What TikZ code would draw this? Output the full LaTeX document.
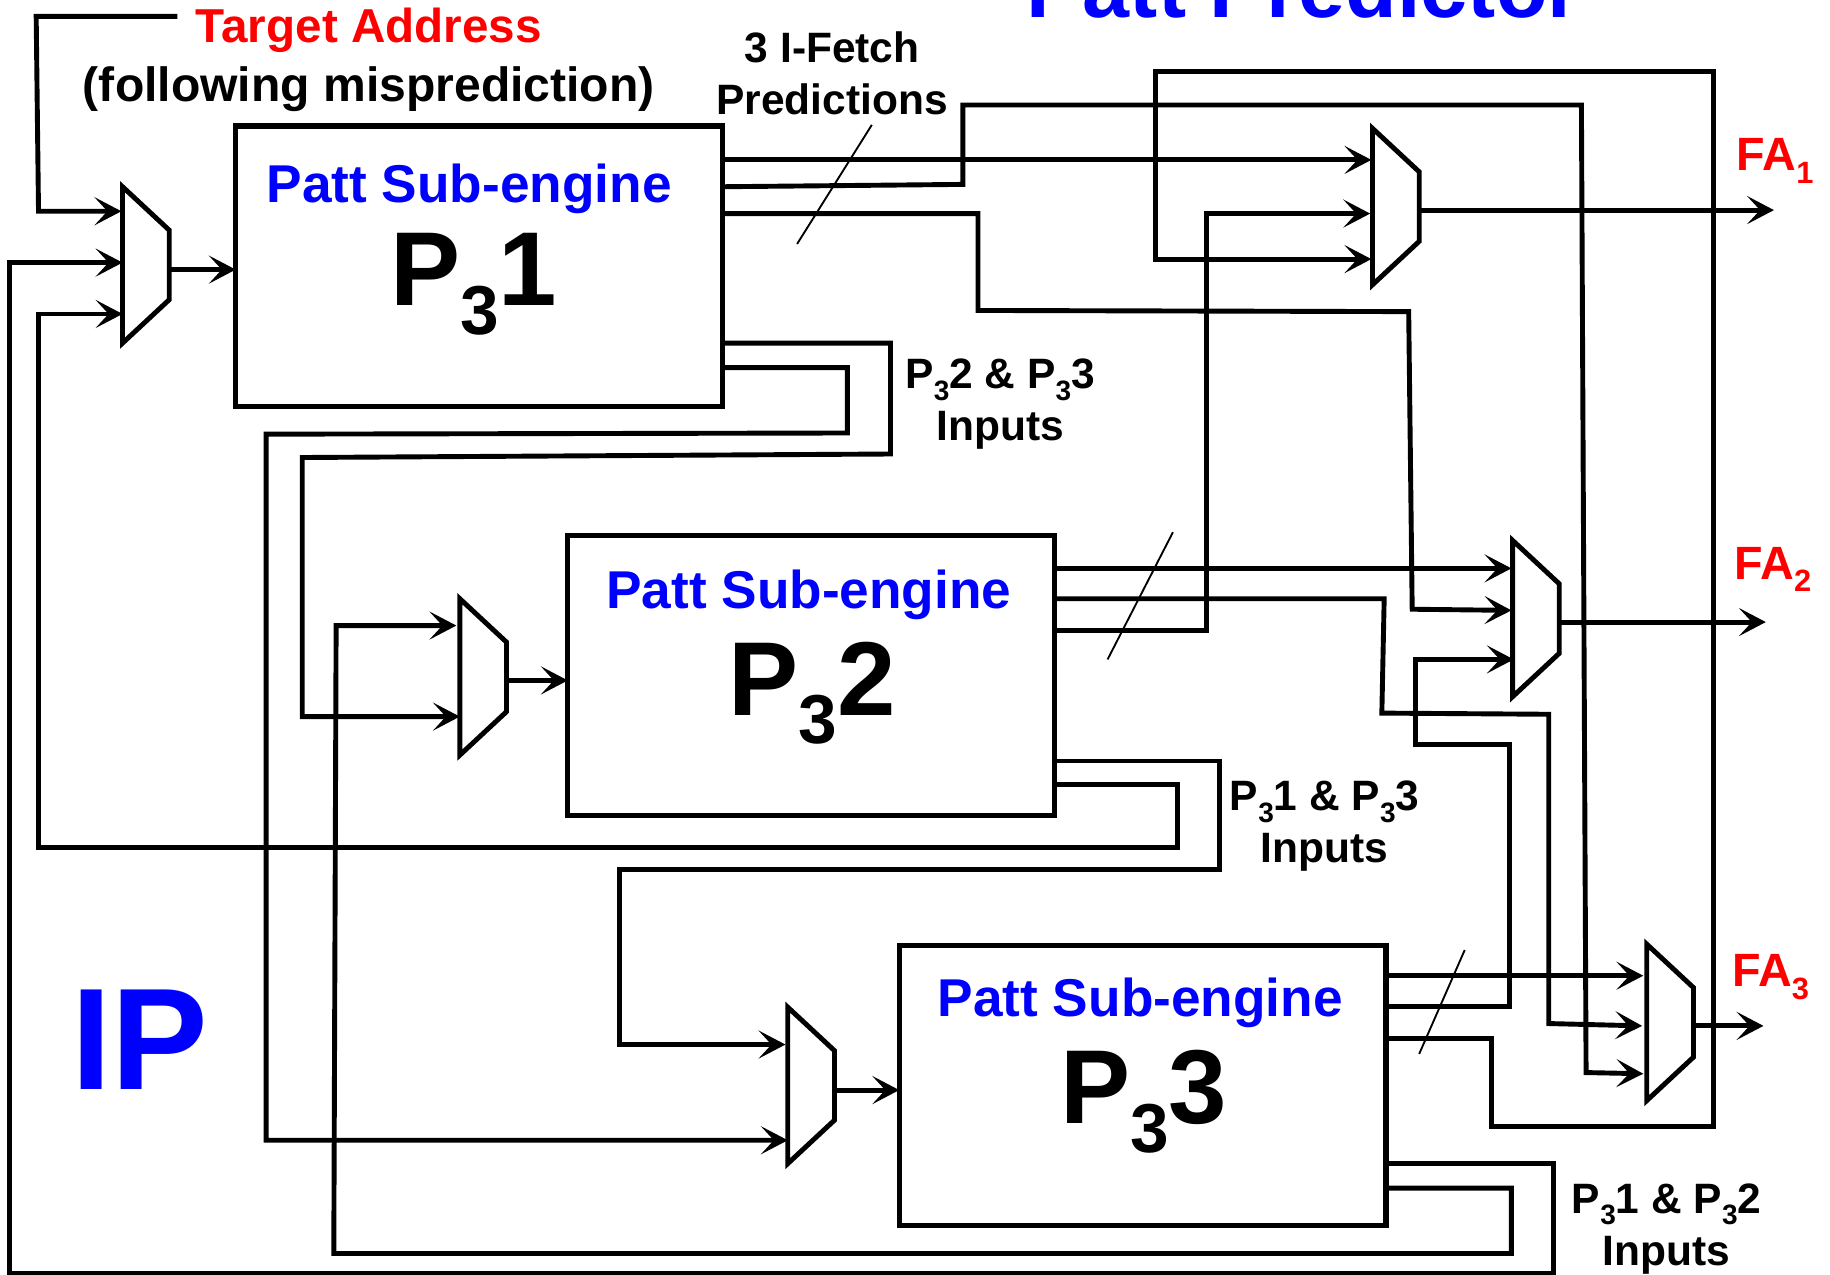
\documentclass[tikz,border=0pt]{standalone}
\usepackage{fontspec}
\usepackage{graphicx}
\setmainfont{Liberation Sans}
\usetikzlibrary{arrows.meta,shapes.geometric}

\newcommand{\lowdigit}[1]{\raisebox{-.27em}{\scalebox{.66}{#1}}}

\begin{document}
\begin{tikzpicture}[
  x=0.5pt, y=-0.5pt,
  engine/.style={draw, line width=2.2pt, inner sep=0pt, outer sep=0pt,
    minimum width=208.5pt, minimum height=120pt},
  mux/.style={draw, line width=2.1pt, trapezium, shape border rotate=270,
    trapezium stretches=true, trapezium angle=58, inner sep=1pt, outer sep=0pt,
    minimum width=67pt, minimum height=20pt},
  title/.style={text=blue, font=\bfseries\fontsize{22.8}{26}\selectfont},
  bignum/.style={anchor=base, font=\bfseries\fontsize{45}{50}\selectfont},
  note/.style={align=center, font=\bfseries\fontsize{18.2}{22.4}\selectfont},
  redtext/.style={text=red, font=\bfseries\fontsize{20.4}{24}\selectfont},
  falabel/.style={text=red, font=\bfseries\fontsize{20}{23}\selectfont},
  arrow/.style={line width=2.1pt, -{Stealth[length=11.5pt, width=12pt, inset=5.5pt]}},
  slash/.style={line width=0.8pt}
]
\useasboundingbox (0,0) rectangle (1568,1092.4);

% sub-engines
\node[engine] (P1) at (410.5,228) {};
\node[engine] (P2) at (695,579) {};
\node[engine] (P3) at (979,930) {};
\node[title] at (402,162) (P1title) {Patt Sub-engine};
\node[title] at (693,510) (P2title) {Patt Sub-engine};
\node[title] at (977,859) (P3title) {Patt Sub-engine};
\node[bignum] at (406,262) (P1num) {P\lowdigit{3}1};
\node[bignum] at (696,613) (P2num) {P\lowdigit{3}2};
\node[bignum] at (980,963) (P3num) {P\lowdigit{3}3};

% muxes
\node[mux] (mux1) at (125,227) {};
\node[mux] (mux2) at (414,580) {};
\node[mux] (mux3) at (695,930) {};
\node[mux] (muxa) at (1196,177) {};
\node[mux] (muxb) at (1316,530) {};
\node[mux] (muxc) at (1431,876) {};

% text
\node[redtext] (target) at (316,26) {Target Address};
\node[redtext, text=black, font=\bfseries\fontsize{20.6}{24}\selectfont] (following) at (316,76) {(following misprediction)};
\node[note] (fetch) at (713,63) {3 I-Fetch\\Predictions};
\node[note] (inputs1) at (857,346.5) {P\lowdigit{3}2 \& P\lowdigit{3}3\\Inputs};
\node[note] (inputs2) at (1135,708) {P\lowdigit{3}1 \& P\lowdigit{3}3\\Inputs};
\node[note] (inputs3) at (1428,1053) {P\lowdigit{3}1 \& P\lowdigit{3}2\\Inputs};
\node[text=blue, font=\bfseries\fontsize{62}{70}\selectfont] (ip) at (120,891) {IP};
\node[anchor=base, text=blue, font=\bfseries\fontsize{36.2}{40}\selectfont] (patt) at (1117,15) {Patt Predictor};
\node[falabel] (fa1) at (1521,138) {FA\lowdigit{1}};
\node[falabel] (fa2) at (1519,488) {FA\lowdigit{2}};
\node[falabel] (fa3) at (1517,837) {FA\lowdigit{3}};

\coordinate (tgtend) at (152,14);
\coordinate (out1) at (1520,180);
\coordinate (out2) at (1513,533);
\coordinate (out3) at (1511,879);

% inputs of mux1
\draw[arrow] (tgtend) -- (31,14) -- (33,181) -- (104,181);
\draw[arrow] (P3.east |- 0,997) -- (1331,997) -- (1331,1091) -- (8,1091) -- (8,225) -- (105,225);
\draw[arrow] (P2.east |- 0,672) -- (1009,672) -- (1009,726) -- (33,726) -- (33,269) -- (105,269);

% mux outputs
\draw[arrow] (145,231) -- (P1.west |- 0,231);
\draw[arrow] (434,583) -- (P2.west |- 0,583);
\draw[arrow] (715,934) -- (P3.west |- 0,934);
\draw[arrow] (1216,180) -- (out1);
\draw[arrow] (1336,533) -- (out2);
\draw[arrow] (1451,879) -- (out3);

% P1 predictions
\draw[arrow] (P1.east |- 0,137) -- (1175,137);
\draw[arrow] (P1.east |- 0,160) -- (825,158) -- (825,90) -- (1355,90) -- (1359,919) -- (1408,920);
\draw[arrow] (P1.east |- 0,183) -- (838,183) -- (838,266) -- (1207,267) -- (1210,522) -- (1295,523);
\draw[arrow] (P1.east |- 0,294) -- (763,294) -- (763,389) -- (259,392) -- (259,614) -- (394,614);
\draw[arrow] (P1.east |- 0,315) -- (726,315) -- (726,371) -- (228,372) -- (228,977) -- (675,977);

% P2 predictions
\draw[arrow] (P2.east |- 0,487) -- (1295,487);
\draw[arrow] (P2.east |- 0,513) -- (1186,513) -- (1184,611) -- (1327,612) -- (1327,877) -- (1407,879);
\draw[arrow] (P2.east |- 0,540) -- (1034,540) -- (1034,183) -- (1174,183);
\draw[arrow] (P2.east |- 0,652) -- (1045,652) -- (1045,745) -- (531,745) -- (531,895) -- (673,895);

% P3 predictions
\draw[arrow] (P3.east |- 0,836) -- (1408,836);
\draw[arrow] (P3.east |- 0,862) -- (1293,862) -- (1293,638) -- (1213,638) -- (1213,565) -- (1297,565);
\draw[arrow] (P3.east |- 0,890) -- (1278,890) -- (1278,965) -- (1468,965) -- (1468,61) -- (990,61) -- (990,222) -- (1175,222);
\draw[arrow] (P3.east |- 0,1018) -- (1295,1018) -- (1295,1074) -- (286,1074) -- (288,536) -- (391,536);

% bus marks
\draw[slash] (747,107) -- (683,209);
\draw[slash] (1005,456) -- (949,565);
\draw[slash] (1255,814) -- (1216,903);
\end{tikzpicture}
\end{document}
